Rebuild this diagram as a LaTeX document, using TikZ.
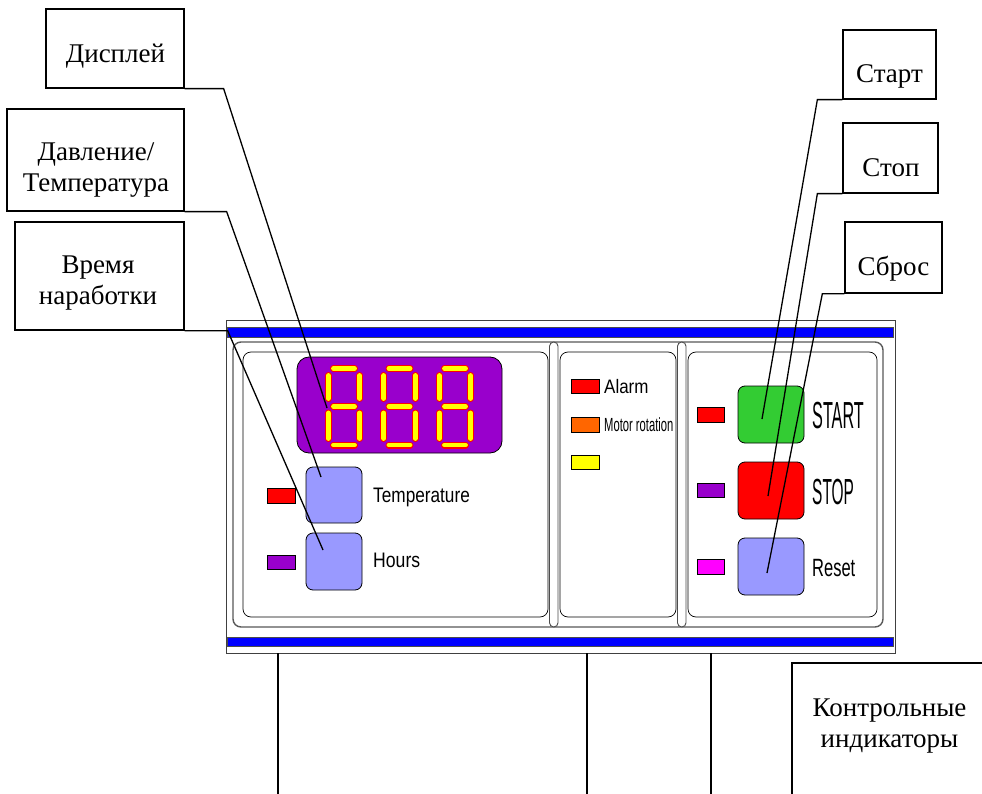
\documentclass[tikz,border=0pt]{standalone}
\usepackage{fontspec}
\setmainfont{Liberation Serif}
\newfontfamily\panelfont{Liberation Sans}
\usepackage{graphicx}
\definecolor{dpurple}{HTML}{9900CC}
\definecolor{btnblue}{HTML}{9999FF}
\definecolor{bgreen}{HTML}{33CC33}
\definecolor{bred}{HTML}{FF0000}
\definecolor{bmag}{HTML}{FF00FF}
\definecolor{borange}{HTML}{FF6600}
\definecolor{byellow}{HTML}{FFFF00}
\definecolor{bblue}{HTML}{0000FF}
\newcommand\nx[2]{\scalebox{#1}[1]{#2}}
\newcommand\twolines[2]{\begin{tabular}[b]{@{}c@{}}#1\\#2\end{tabular}}
\begin{document}
\begin{tikzpicture}[x=1pt,y=-1pt,
  lbox/.style={draw=black, line width=1.3pt, inner sep=0pt, rectangle},
  lbltxt/.style={inner sep=0pt, anchor=base, font=\fontsize{27}{31}\selectfont},
  leader/.style={draw=black, line width=1.3pt},
  ledbox/.style={draw=black, line width=0.6pt},
  btn/.style={draw=black, line width=0.8pt, rounded corners=7pt, inner sep=0pt},
  ptxt/.style={inner sep=0pt, anchor=base west}]
\useasboundingbox (0,0) rectangle (982,794);
\clip (0,0) rectangle (982,794);

% ---------- panel ----------
\node[draw=black!75, line width=0.8pt, fill=white, minimum width=669pt, minimum height=333pt, inner sep=0pt] (panel) at (560.5,486.5) {};
\draw[fill=bblue, draw=black!70, line width=0.5pt] (227,327) rectangle (893,337);
\draw[fill=bblue, draw=black!70, line width=0.5pt] (227,637) rectangle (893,646);
\draw[draw=black!65, line width=1.4pt, rounded corners=8pt] (233,342) rectangle (883,627);
\draw[line width=0.7pt, rounded corners=8pt] (243,352) rectangle (548,617);
\draw[line width=0.7pt, rounded corners=8pt] (560,352) rectangle (676,617);
\draw[line width=0.7pt, rounded corners=8pt] (688,352) rectangle (877,617);
\draw[fill=white, draw=black!70, line width=0.9pt, rounded corners=4.2pt] (549.5,342) rectangle (558,627);
\draw[fill=white, draw=black!70, line width=0.9pt, rounded corners=4.2pt] (677.5,342) rectangle (686,627);

% ---------- display ----------
\node[draw=black, fill=dpurple, line width=0.8pt, rounded corners=12pt, minimum width=205pt, minimum height=96pt, inner sep=0pt] (display) at (399.5,405) {};
\foreach \d in {325,380.5,436}{
  \foreach \w/\c in {7/bred,4.8/byellow}{
    \draw[line width=\w pt, color=\c, line cap=round]
      (\d+8.5,368.5) -- (\d+29.5,368.5)
      (\d+8.5,406.5) -- (\d+29.5,406.5)
      (\d+8.5,445) -- (\d+29.5,445)
      (\d+3.3,375.5) -- (\d+3.3,398.5)
      (\d+34.7,375.5) -- (\d+34.7,398.5)
      (\d+3.3,413) -- (\d+3.3,438.5)
      (\d+34.7,413) -- (\d+34.7,438.5);
  }
}

% ---------- LEDs ----------
\draw[ledbox, fill=bred] (267,488) rectangle (295,503);
\draw[ledbox, fill=dpurple] (267,555) rectangle (295,569);
\draw[ledbox, fill=bred] (571,379) rectangle (599,393);
\draw[ledbox, fill=borange] (571,417) rectangle (599,432);
\draw[ledbox, fill=byellow] (571,455) rectangle (599,469);
\draw[ledbox, fill=bred] (697,407) rectangle (724,422);
\draw[ledbox, fill=dpurple] (697,483) rectangle (724,497);
\draw[ledbox, fill=bmag] (697,559) rectangle (724,574);

% ---------- buttons ----------
\node[btn, fill=btnblue, minimum width=56pt, minimum height=56pt] (tbtn) at (334,495) {};
\node[btn, fill=btnblue, minimum width=56pt, minimum height=57pt] (hbtn) at (334,561.5) {};
\node[btn, fill=bgreen, minimum width=66pt, minimum height=57pt] (startb) at (771,414.5) {};
\node[btn, fill=bred, minimum width=66pt, minimum height=57pt] (stopb) at (771,490.5) {};
\node[btn, fill=btnblue, minimum width=66pt, minimum height=57pt] (resetb) at (771,566.5) {};

% ---------- panel texts ----------
\node[ptxt, font=\panelfont\fontsize{21}{25}\selectfont] (ttemp) at (373,502) {\nx{0.82}{Temperature}};
\node[ptxt, font=\panelfont\fontsize{21}{25}\selectfont] (thours) at (373,567) {\nx{0.84}{Hours}};
\node[ptxt, font=\panelfont\fontsize{19.5}{23}\selectfont] (talarm) at (604,393) {\nx{0.87}{Alarm}};
\node[ptxt, font=\panelfont\fontsize{19}{23}\selectfont] (tmotor) at (604,431) {\nx{0.59}{Motor rotation}};
\node[ptxt, font=\panelfont\fontsize{37.7}{40}\selectfont] (tstart) at (812,428) {\nx{0.43}{START}};
\node[ptxt, font=\panelfont\fontsize{36.3}{40}\selectfont] (tstop) at (812,504) {\nx{0.425}{STOP}};
\node[ptxt, font=\panelfont\fontsize{25}{28}\selectfont] (treset) at (812,576) {\nx{0.66}{Reset}};

% ---------- label boxes ----------
\node[lbox, minimum width=138pt, minimum height=79pt] (dispbox) at (115,48.5) {};
\node[lbltxt] (disptxt) at (115.5,63) {Дисплей};
\node[lbox, minimum width=177pt, minimum height=102pt] (ptbox) at (95.5,160) {};
\node[lbltxt] (pttxt) at (96,192) {\twolines{Давление/}{Температура}};
\node[lbox, minimum width=169pt, minimum height=108pt] (vrbox) at (99.5,276) {};
\node[lbltxt] (vrtxt) at (98,304) {\twolines{Время}{наработки}};
\node[lbox, minimum width=93pt, minimum height=69pt] (stbox) at (889.5,64.5) {};
\node[lbltxt] (sttxt) at (889.5,83) {Старт};
\node[lbox, minimum width=95pt, minimum height=70pt] (spbox) at (890.5,158) {};
\node[lbltxt] (sptxt) at (891,177) {Стоп};
\node[lbox, minimum width=97pt, minimum height=71pt] (sbbox) at (893.5,257.5) {};
\node[lbltxt] (sbtxt) at (893.5,276) {Сброс};
\node[lbox, line width=2pt, minimum width=240pt, minimum height=200pt] (kibox) at (912,763) {};
\node[lbltxt] (kitxt) at (889.5,747) {\twolines{Контрольные}{индикаторы}};

% ---------- leaders ----------
\coordinate (dispend) at (327,408);
\coordinate (tempend) at (321,477);
\coordinate (hoursend) at (323,550);
\coordinate (startend) at (762,419);
\coordinate (stopend) at (768,496);
\coordinate (resetend) at (767,573);
\draw[leader] (dispbox.south east) -- ++(39,0) -- (dispend);
\draw[leader] (ptbox.south east) -- ++(42,0) -- (tempend);
\draw[leader] (vrbox.south east) -- ++(43,0) -- (hoursend);
\draw[leader] (stbox.south west) -- ++(-25,0) -- (startend);
\draw[leader] (spbox.south west) -- ++(-25,0) -- (stopend);
\draw[leader] (sbbox.south west) -- ++(-22,0) -- (resetend);

% ---------- bottom lines ----------
\coordinate (bl1) at (278,800);
\coordinate (bl2) at (587,800);
\coordinate (bl3) at (711,800);
\draw[leader] (panel.south -| bl1) -- (bl1);
\draw[leader] (panel.south -| bl2) -- (bl2);
\draw[leader] (panel.south -| bl3) -- (bl3);
\end{tikzpicture}
\end{document}
